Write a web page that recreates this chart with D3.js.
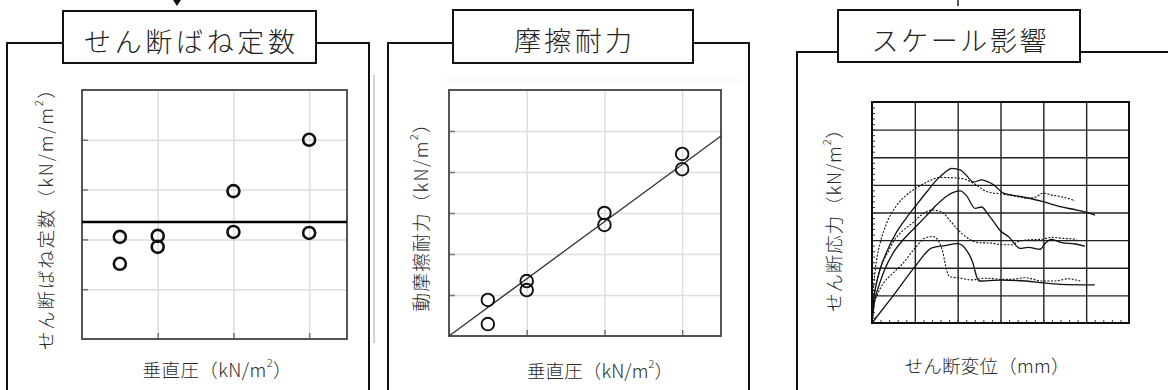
<!DOCTYPE html>
<html>
<head>
<meta charset="utf-8">
<script src="https://cdn.jsdelivr.net/npm/d3@7"></script>
<style>
  body { margin: 0; background: #fff; }
  svg { display: block; font-family: "Noto Sans CJK JP", "Noto Sans", sans-serif; }
</style>
</head>
<body>
<svg id="chart" width="1168" height="390"></svg>
<script>
// ---- data ----
// panel 1: shear spring constant vs normal pressure
const springX = [0.5, 0.5, 1, 1, 2, 2, 3, 3];
const springY = [2.05, 1.51, 2.07, 1.85, 2.97, 2.15, 4.0, 2.13];
const springMean = 2.35;
const springTicksX = [1, 2, 3];
const springTicksY = [1, 2, 3, 4];

// panel 2: friction resistance vs normal pressure
const fricX = [0.5, 0.5, 1, 1, 2, 2, 3, 3];
const fricY = [0.88, 0.29, 1.34, 1.12, 3.0, 2.71, 4.44, 4.07];
const fricFitX = [0, 3.5];
const fricFitY = [0, 4.88];
const fricTicksX = [1, 2, 3];
const fricTicksY = [1, 2, 3, 4, 5];

// panel 3: shear stress vs shear displacement (scale effect)
const curveA = [[0,0],[0.03,0.7],[0.1,1.4],[0.2,2.0],[0.35,2.6],[0.58,3.31],[0.8,3.8],[1.04,4.28],[1.28,4.75],[1.51,5.18],[1.7,5.45],[1.86,5.6],[2.06,5.54],[2.2,5.35],[2.37,5.1],[2.56,5.18],[2.7,5.12],[2.84,5.0],[3.07,4.7],[3.46,4.58],[3.93,4.42],[4.39,4.21],[4.78,4.09],[5.09,3.97],[5.21,3.9]];
const curveB = [[0,0],[0.02,0.9],[0.06,1.7],[0.12,2.4],[0.2,2.95],[0.34,3.61],[0.55,4.2],[0.81,4.64],[1.05,4.9],[1.28,5.1],[1.59,5.27],[2.06,5.24],[2.37,5.06],[2.68,4.76],[3.07,4.66],[3.3,4.6],[3.61,4.52],[3.8,4.55],[4.0,4.7],[4.2,4.63],[4.39,4.58],[4.6,4.5],[4.74,4.42]];
const curveC = [[0,0],[0.05,0.7],[0.15,1.3],[0.3,1.95],[0.5,2.55],[0.75,3.05],[1.0,3.45],[1.25,3.85],[1.51,4.28],[1.75,4.6],[2.06,4.78],[2.2,4.62],[2.41,4.15],[2.56,4.2],[2.7,3.95],[2.84,3.67],[2.99,3.35],[3.19,3.12],[3.46,2.7],[3.65,2.74],[3.93,2.67],[4.04,2.88],[4.19,3.03],[4.43,2.91],[4.74,2.86],[4.97,2.78]];
const curveD = [[0,0],[0.03,0.8],[0.08,1.3],[0.14,1.7],[0.25,2.2],[0.37,2.55],[0.5,2.95],[0.69,3.3],[0.97,3.65],[1.15,3.91],[1.39,4.09],[1.62,4.03],[1.81,3.73],[2.01,3.37],[2.24,3.07],[2.48,2.91],[2.79,2.89],[3.06,2.83],[3.26,2.83],[3.42,2.95],[3.65,3.01],[3.96,3.03],[4.19,3.1],[4.43,3.07],[4.78,3.03]];
const curveE = [[0,0],[0.5,1.0],[1.0,2.03],[1.4,2.72],[1.7,2.8],[2.0,2.87],[2.2,2.65],[2.35,2.2],[2.45,1.65],[2.5,1.52],[3.0,1.55],[3.6,1.52],[4.0,1.45],[4.4,1.4],[5.2,1.38]];
const curveF = [[0,0],[0.04,0.6],[0.12,1.0],[0.25,1.4],[0.45,1.75],[0.69,2.1],[1.0,2.7],[1.23,3.07],[1.42,3.13],[1.54,3.01],[1.66,2.52],[1.74,1.92],[1.81,1.68],[2.09,1.62],[2.32,1.56],[2.63,1.62],[3.06,1.58],[3.26,1.58],[3.58,1.64],[3.96,1.52],[4.27,1.52],[4.58,1.6],[4.86,1.52]];
const scaleCurves = [curveA, curveB, curveC, curveD, curveE, curveF];
const scaleDotted = [false, true, false, true, false, true];
const scaleTicksX = [1, 2, 3, 4, 5];
const scaleTicksY = [1, 2, 3, 4, 5, 6, 7];

// labels
const titles = ["せん断ばね定数", "摩擦耐力", "スケール影響"];
const yLabels = [["せん断ばね定数（kN/m/m", "2", "）"], ["動摩擦耐力（kN/m", "2", "）"], ["せん断応力（kN/m", "2", "）"]];
const xLabels = [["垂直圧（kN/m", "2", "）"], ["垂直圧（kN/m", "2", "）"], ["せん断変位（mm）", "", ""]];

const svg = d3.select("#chart");

// outer frame of a panel with the title box over its top edge
function drawFrame(box, tbox, title, tLen) {
    svg.append("rect")
        .attr("x", box.x0).attr("y", box.y0)
        .attr("width", box.x1 - box.x0).attr("height", box.y1 - box.y0)
        .attr("fill", "none").attr("stroke", "#111").attr("stroke-width", 2);
    svg.append("rect")
        .attr("x", tbox.x0).attr("y", tbox.y0)
        .attr("width", tbox.x1 - tbox.x0).attr("height", tbox.y1 - tbox.y0)
        .attr("fill", "#fff").attr("stroke", "#111").attr("stroke-width", 2);
    svg.append("text")
        .attr("x", (tbox.x0 + tbox.x1) / 2)
        .attr("y", tbox.y0 + 29)
        .attr("text-anchor", "middle")
        .attr("dominant-baseline", "central")
        .attr("font-size", 27)
        .attr("font-weight", 300)
        .attr("fill", "#222")
        .attr("textLength", tLen)
        .attr("lengthAdjust", "spacing")
        .text(title);
}

// label text with an optional superscript part
function addLabel(parts, cx, cy, len, rotate) {
    const t = svg.append("text")
        .attr("text-anchor", "middle")
        .attr("dominant-baseline", "central")
        .attr("font-size", 18.5)
        .attr("font-weight", 300)
        .attr("fill", "#2a2a2a")
        .attr("textLength", len)
        .attr("lengthAdjust", "spacing")
        .attr("transform", `translate(${cx},${cy})` + (rotate ? " rotate(-90)" : ""));
    t.append("tspan").text(parts[0]);
    if (parts[1]) {
        t.append("tspan").attr("font-size", 11).attr("dy", -7).text(parts[1]);
        t.append("tspan").attr("dy", 7).text(parts[2]);
    }
}

// scatter panel (first two charts)
function scatterPanel(p) {
    const x = d3.scaleLinear().domain([0, 3.5]).range([p.x0, p.x1]);
    const y = d3.scaleLinear().domain(p.yDomain).range([p.y1, p.y0]);
    const g = svg.append("g");
    const h = p.y1 - p.y0, w = p.x1 - p.x0;

    // light grid
    g.append("g").attr("transform", `translate(0,${p.y1})`)
        .call(d3.axisBottom(x).tickValues(p.ticksX).tickSize(-h).tickFormat(""))
        .call(s => s.select(".domain").remove())
        .call(s => s.selectAll("line").attr("stroke", "#ddd").attr("stroke-width", 1.5));
    g.append("g").attr("transform", `translate(${p.x0},0)`)
        .call(d3.axisLeft(y).tickValues(p.ticksY).tickSize(-w).tickFormat(""))
        .call(s => s.select(".domain").remove())
        .call(s => s.selectAll("line").attr("stroke", "#ddd").attr("stroke-width", 1.5));
    // short tick marks inside the frame
    g.append("g").attr("transform", `translate(0,${p.y1})`)
        .call(d3.axisBottom(x).tickValues(p.ticksX).tickSize(-6).tickFormat(""))
        .call(s => s.select(".domain").remove())
        .call(s => s.selectAll("line").attr("stroke", "#777").attr("stroke-width", 1.5));
    g.append("g").attr("transform", `translate(${p.x0},0)`)
        .call(d3.axisLeft(y).tickValues(p.ticksY).tickSize(-6).tickFormat(""))
        .call(s => s.select(".domain").remove())
        .call(s => s.selectAll("line").attr("stroke", "#777").attr("stroke-width", 1.5));

    g.append("rect")
        .attr("x", p.x0).attr("y", p.y0).attr("width", w).attr("height", h)
        .attr("fill", "none").attr("stroke", "#555").attr("stroke-width", 2);

    return { g, x, y };
}

// ---- panel 1 ----
drawFrame({ x0: 7, y0: 43, x1: 369, y1: 400 }, { x0: 63, y0: 11, x1: 316, y1: 63 }, titles[0], 211);
const p1 = scatterPanel({ x0: 82, x1: 347, y0: 90, y1: 339, yDomain: [0, 5], ticksX: springTicksX, ticksY: springTicksY });
p1.g.append("line")
    .attr("x1", p1.x(0)).attr("x2", p1.x(3.5))
    .attr("y1", p1.y(springMean)).attr("y2", p1.y(springMean))
    .attr("stroke", "#000").attr("stroke-width", 2.5);
p1.g.selectAll("circle.pt").data(springX).join("circle")
    .attr("class", "pt")
    .attr("cx", d => p1.x(d))
    .attr("cy", (d, i) => p1.y(springY[i]))
    .attr("r", 6).attr("fill", "none").attr("stroke", "#111").attr("stroke-width", 2.6);
addLabel(yLabels[0], 45, 215, 270, true);
addLabel(xLabels[0], 217, 369, 149, false);

// ---- panel 2 ----
svg.append("line").attr("x1", 374).attr("x2", 374).attr("y1", 75).attr("y2", 343)
    .attr("stroke", "#aaa").attr("stroke-width", 1);
svg.append("line").attr("x1", 443).attr("x2", 743).attr("y1", 80).attr("y2", 80)
    .attr("stroke", "#f2f2f2").attr("stroke-width", 1);
drawFrame({ x0: 388, y0: 43, x1: 749, y1: 400 }, { x0: 453, y0: 10, x1: 693, y1: 63 }, titles[1], 118);
const p2 = scatterPanel({ x0: 449, x1: 721, y0: 90, y1: 336, yDomain: [0, 6], ticksX: fricTicksX, ticksY: fricTicksY });
p2.g.append("line")
    .attr("x1", p2.x(fricFitX[0])).attr("x2", p2.x(fricFitX[1]))
    .attr("y1", p2.y(fricFitY[0])).attr("y2", p2.y(fricFitY[1]))
    .attr("stroke", "#333").attr("stroke-width", 1.3);
p2.g.selectAll("circle.pt").data(fricX).join("circle")
    .attr("class", "pt")
    .attr("cx", d => p2.x(d))
    .attr("cy", (d, i) => p2.y(fricY[i]))
    .attr("r", 6.3).attr("fill", "none").attr("stroke", "#111").attr("stroke-width", 1.9);
addLabel(yLabels[1], 420, 213, 197, true);
addLabel(xLabels[1], 600, 370, 146, false);

// ---- panel 3 ----
drawFrame({ x0: 797, y0: 52, x1: 1180, y1: 400 }, { x0: 838, y0: 10, x1: 1080, y1: 62 }, titles[2], 175);
(function () {
    const P = { x0: 872, x1: 1129, y0: 102, y1: 323 };
    const w = P.x1 - P.x0, h = P.y1 - P.y0;
    const x = d3.scaleLinear().domain([0, 6]).range([P.x0, P.x1]);
    const y = d3.scaleLinear().domain([0, 8]).range([P.y1, P.y0]);
    const g = svg.append("g");

    g.append("g").attr("transform", `translate(0,${P.y1})`)
        .call(d3.axisBottom(x).tickValues(scaleTicksX).tickSize(-h).tickFormat(""))
        .call(s => s.select(".domain").remove())
        .call(s => s.selectAll("line").attr("stroke", "#222").attr("stroke-width", 1.4));
    g.append("g").attr("transform", `translate(${P.x0},0)`)
        .call(d3.axisLeft(y).tickValues(scaleTicksY).tickSize(-w).tickFormat(""))
        .call(s => s.select(".domain").remove())
        .call(s => s.selectAll("line").attr("stroke", "#222").attr("stroke-width", 1.4));
    // minor ticks, five per grid step
    g.append("g").attr("transform", `translate(0,${P.y1})`)
        .call(d3.axisBottom(x).tickValues(d3.range(1, 30).map(i => i / 5)).tickSize(-3).tickFormat(""))
        .call(s => s.select(".domain").remove())
        .call(s => s.selectAll("line").attr("stroke", "#333").attr("stroke-width", 1));
    g.append("g").attr("transform", `translate(${P.x0},0)`)
        .call(d3.axisLeft(y).tickValues(d3.range(1, 40).map(i => i / 5)).tickSize(-3).tickFormat(""))
        .call(s => s.select(".domain").remove())
        .call(s => s.selectAll("line").attr("stroke", "#333").attr("stroke-width", 1));

    const line = d3.line().x(d => x(d[0])).y(d => y(d[1])).curve(d3.curveMonotoneX);
    scaleCurves.forEach((c, i) => {
        g.append("path")
            .attr("d", line(c))
            .attr("fill", "none")
            .attr("stroke", "#111")
            .attr("stroke-width", scaleDotted[i] ? 1.1 : 1.3)
            .attr("stroke-dasharray", scaleDotted[i] ? "2,1.5" : null);
    });

    g.append("rect")
        .attr("x", P.x0).attr("y", P.y0).attr("width", w).attr("height", h)
        .attr("fill", "none").attr("stroke", "#111").attr("stroke-width", 2);
})();
addLabel(yLabels[2], 833, 216, 192, true);
addLabel(xLabels[2], 987, 365, 165, false);

// small marks at the top edge
svg.append("path").attr("d", "M173,0 L181,0 L177,6 Z").attr("fill", "#111");
svg.append("line").attr("x1", 958).attr("x2", 958).attr("y1", 0).attr("y2", 6)
    .attr("stroke", "#222").attr("stroke-width", 1.5);
</script>
</body>
</html>
